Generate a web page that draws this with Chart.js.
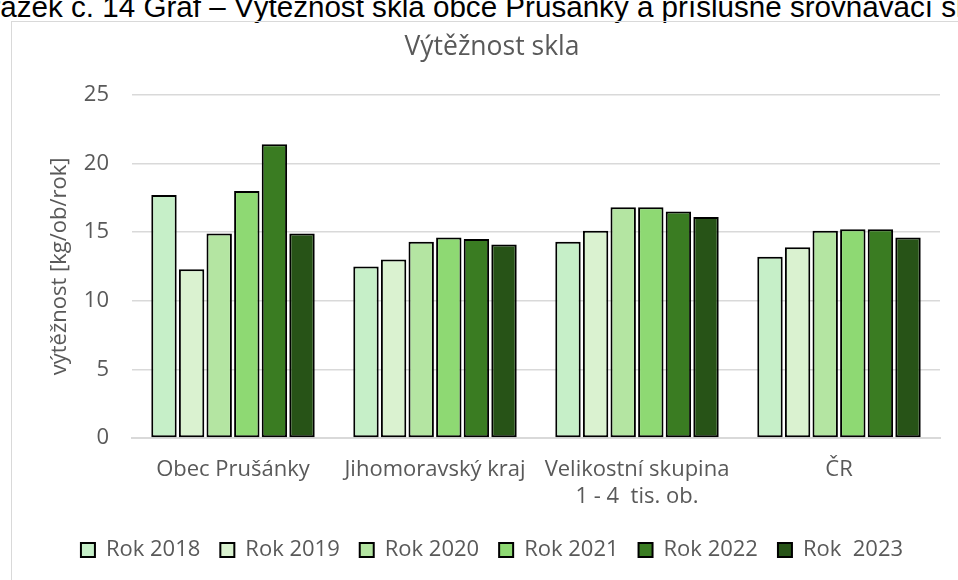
<!DOCTYPE html>
<html>
<head>
<meta charset="utf-8">
<script src="https://cdn.jsdelivr.net/npm/chart.js@4.4.1/dist/chart.umd.min.js"></script>
<style>
    html, body { margin: 0; padding: 0; background: #fff; overflow: hidden; }
    #wrap { position: relative; width: 958px; height: 580px; overflow: hidden; }
    #caption {
        position: absolute; top: -8px; left: 0; white-space: nowrap;
        font-family: 'Liberation Sans', Arial, sans-serif; font-size: 29.6px; line-height: 1; color: #000;
    }
    #frame {
        position: absolute; left: 11px; top: 21px; width: 980px; height: 600px;
        border: 1px solid #d9d9d9; box-sizing: border-box;
    }
    #chartBox { position: absolute; left: 0; top: 0; width: 972px; height: 580px; }
</style>
</head>
<body>
<div id="wrap">
    <div id="caption"><span id="capCut">Obr</span>ázek č. 14 Graf – Výtěžnost skla obce Prušánky a příslušné srovnávací skupiny</div>
    <div id="frame"></div>
    <div id="chartBox"><canvas id="chartGlass"></canvas></div>
</div>
<script>
// ---- data ----
const categories = ['Obec Prušánky', 'Jihomoravský kraj', ['Velikostní skupina', '1 - 4  tis. ob.'], 'ČR'];
const yearLabels = ['Rok 2018', 'Rok 2019', 'Rok 2020', 'Rok 2021', 'Rok 2022', 'Rok  2023'];

const rok2018 = [17.7, 12.5, 14.3, 13.2];
const rok2019 = [12.3, 13.0, 15.1, 13.9];
const rok2020 = [14.9, 14.3, 16.8, 15.1];
const rok2021 = [18.0, 14.6, 16.8, 15.2];
const rok2022 = [21.4, 14.5, 16.5, 15.2];
const rok2023 = [14.9, 14.1, 16.1, 14.6];

const yTicks = [0, 5, 10, 15, 20, 25];

// ---- style ----
const yearColors = ['#c6efc8', '#daf2d0', '#b4e5a2', '#8ed973', '#3a7c22', '#275317'];
const chartFont = "'Open Sans', sans-serif";
const textColor = '#595959';
const gridColor = '#d9d9d9';

// shift caption so the first letters fall off the left edge
const cap = document.getElementById('caption');
cap.style.left = (-document.getElementById('capCut').offsetWidth) + 'px';

const seriesValues = [rok2018, rok2019, rok2020, rok2021, rok2022, rok2023];

new Chart(document.getElementById('chartGlass'), {
    type: 'bar',
    data: {
        labels: categories,
        datasets: seriesValues.map((vals, i) => ({
            label: yearLabels[i],
            data: vals,
            backgroundColor: yearColors[i],
            borderColor: '#000',
            borderWidth: 2,
            borderSkipped: false,
            categoryPercentage: 0.82,
            barPercentage: 0.92
        }))
    },
    options: {
        responsive: true,
        maintainAspectRatio: false,
        animation: false,
        layout: { padding: { left: 12, right: 0, top: 20, bottom: 9 } },
        plugins: {
            title: {
                display: true,
                text: 'Výtěžnost skla',
                color: textColor,
                font: { family: chartFont, size: 26.5, weight: 'normal' },
                padding: { top: 12, bottom: 31 }
            },
            legend: {
                position: 'bottom',
                labels: {
                    color: textColor,
                    font: { family: chartFont, size: 22 },
                    boxWidth: 14,
                    boxHeight: 14,
                    padding: 20
                }
            },
            tooltip: { enabled: false }
        },
        scales: {
            x: {
                grid: { display: false },
                border: { color: gridColor, width: 2 },
                ticks: {
                    color: textColor,
                    font: { family: chartFont, size: 22 },
                    padding: 11,
                    maxRotation: 0,
                    autoSkip: false
                },
                afterFit: (s) => { s.height = 81; }
            },
            y: {
                min: 0,
                max: 25,
                afterBuildTicks: (s) => { s.ticks = yTicks.map(v => ({ value: v })); },
                grid: { color: gridColor, lineWidth: 1.5, drawTicks: false },
                border: { display: false },
                ticks: {
                    color: textColor,
                    font: { family: chartFont, size: 22 },
                    padding: 23
                },
                title: {
                    display: true,
                    text: 'výtěžnost [kg/ob/rok]',
                    color: textColor,
                    font: { family: chartFont, size: 22 },
                    padding: { top: 35, bottom: 0 }
                },
                afterFit: (s) => { s.width = 120; }
            },
            // empty right-hand spacer so the title and legend centre on the whole frame
            ySpacer: {
                position: 'right',
                min: 0,
                max: 25,
                grid: { display: false },
                border: { display: false },
                ticks: { display: false },
                afterFit: (s) => { s.width = 32; }
            }
        }
    }
});
</script>
</body>
</html>
